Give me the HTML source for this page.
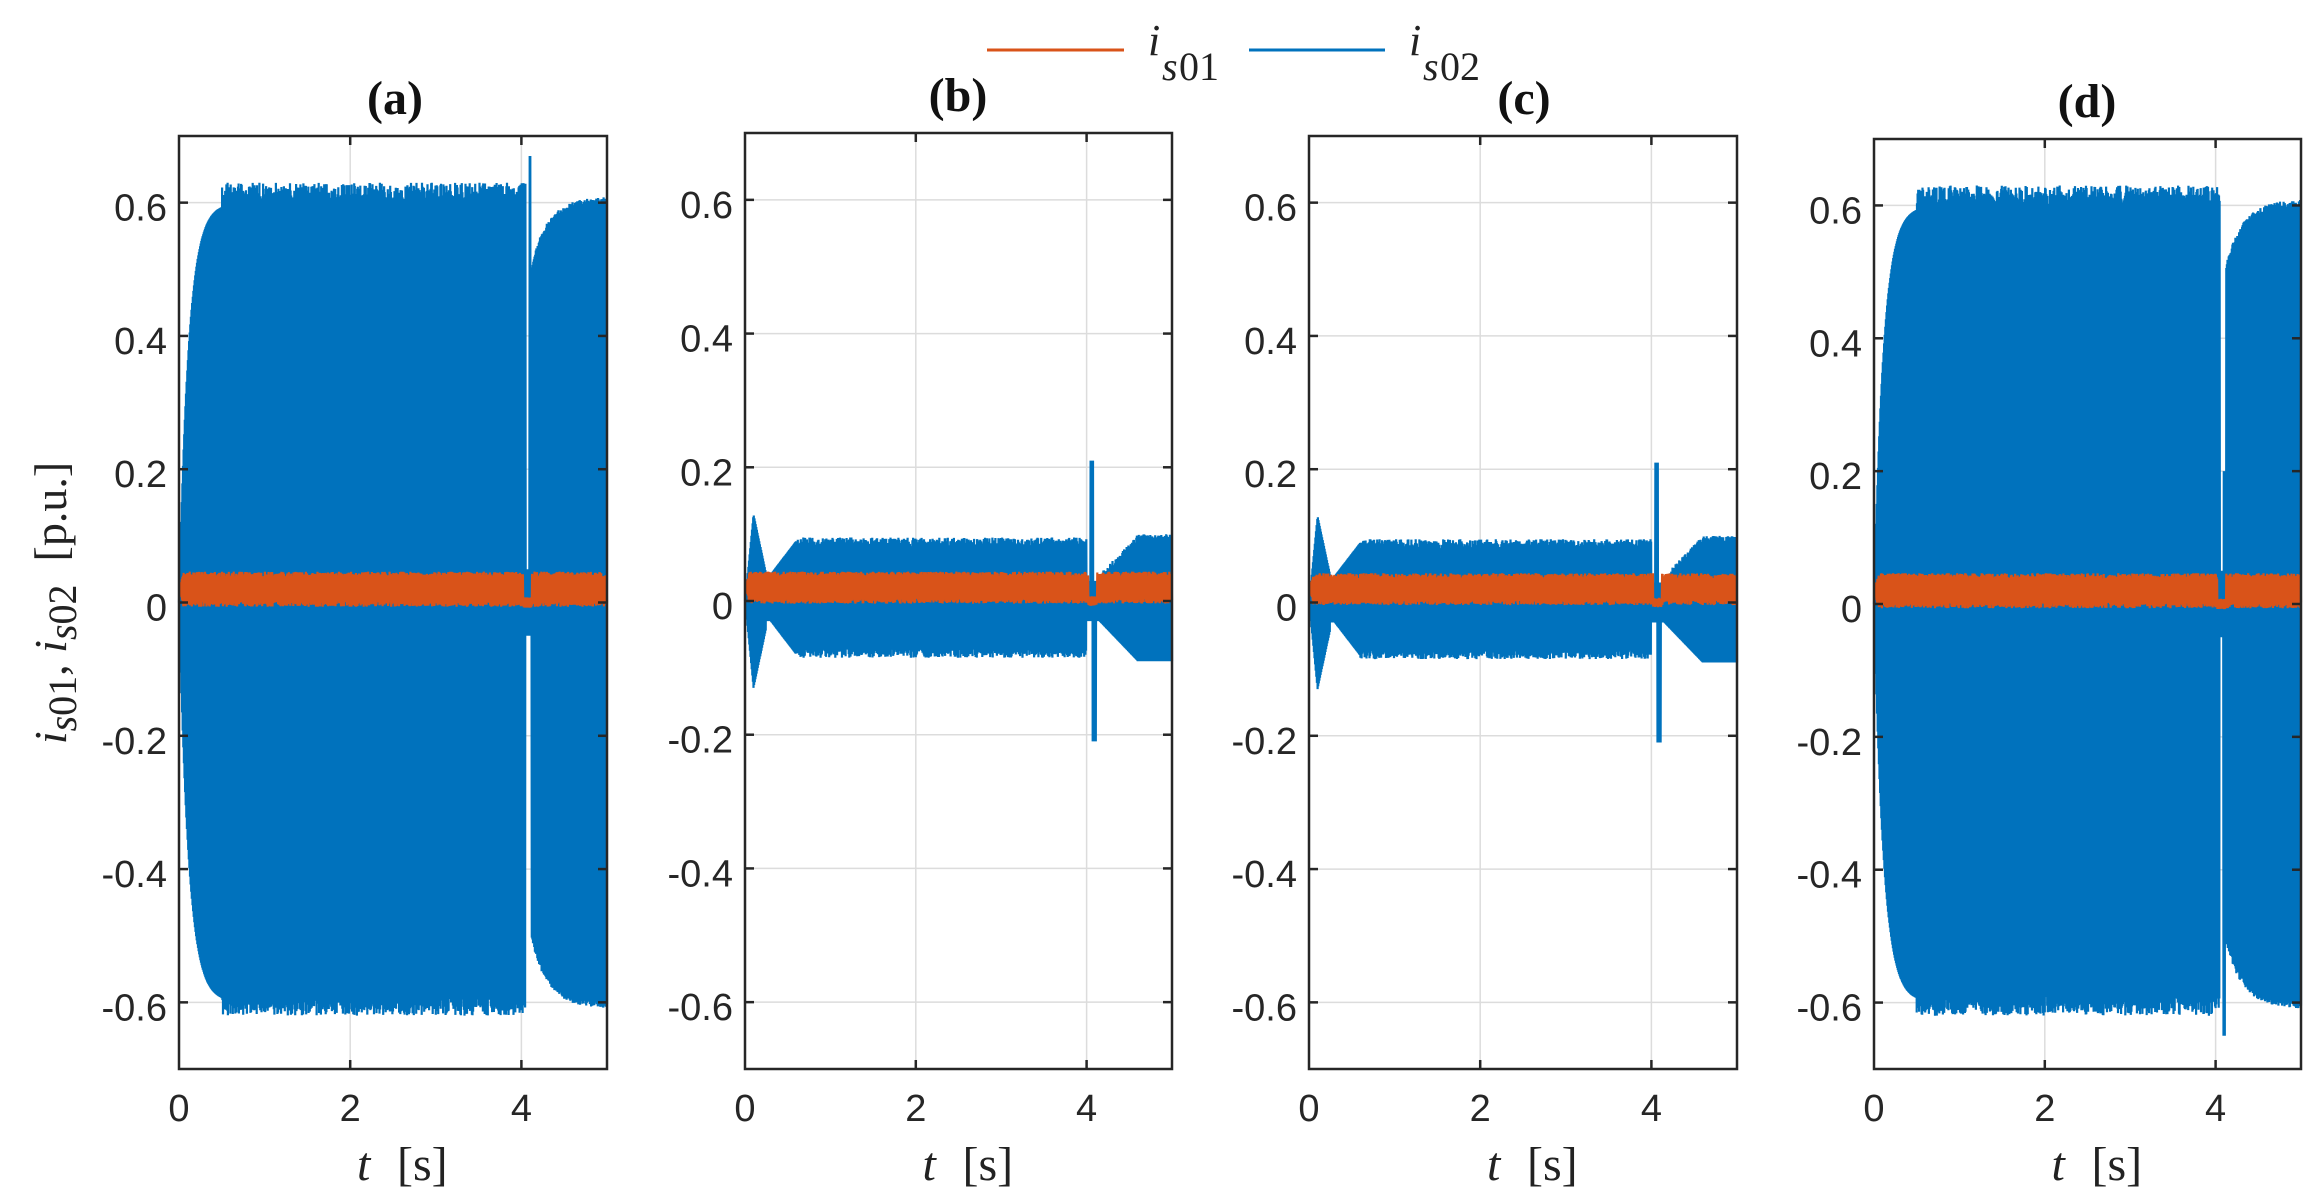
<!DOCTYPE html>
<html><head><meta charset="utf-8"><style>
html,body{margin:0;padding:0;background:#fff;}
svg{display:block}
</style></head><body>
<svg id="s" width="2317" height="1202" xmlns="http://www.w3.org/2000/svg">
<g font-family="Liberation Serif, serif" font-style="italic" font-size="44" fill="#222">
<line x1="987" y1="50" x2="1124" y2="50" stroke="#D95319" stroke-width="3"/>
<text x="1148" y="55">i</text><text x="1162" y="80" font-size="40">s</text><text x="1179" y="80" font-size="40" font-style="normal">01</text>
<line x1="1249" y1="50" x2="1385" y2="50" stroke="#0072BD" stroke-width="3"/>
<text x="1409" y="55">i</text><text x="1423" y="80" font-size="40">s</text><text x="1440" y="80" font-size="40" font-style="normal">02</text>
</g>
<g font-family="Liberation Serif, serif" font-size="46" fill="#222" transform="translate(52,603) rotate(-90)" text-anchor="middle">
<text x="0" y="14" xml:space="preserve"><tspan font-style="italic">i</tspan><tspan font-style="italic" font-size="40" dy="10">s</tspan><tspan font-size="40">01</tspan><tspan dy="-10">, </tspan><tspan font-style="italic">i</tspan><tspan font-style="italic" font-size="40" dy="10">s</tspan><tspan font-size="40">02</tspan><tspan dy="-10">  [p.u.]</tspan></text>
</g>
<g id="plots"></g>
</svg>
<script>
var NS="http://www.w3.org/2000/svg",P=document.getElementById('plots');
function el(t,a,txt){var e=document.createElementNS(NS,t);for(var k in a)e.setAttribute(k,a[k]);if(txt!=null)e.textContent=txt;P.appendChild(e);return e;}
var panels=[{x0:179,x1:607,y0:136,y1:1069,lab:'(a)',tx:395,ty:114,big:1},
{x0:745,x1:1172,y0:133,y1:1069,lab:'(b)',tx:958,ty:111,big:0},
{x0:1309,x1:1737,y0:136,y1:1069,lab:'(c)',tx:1524,ty:114,big:0},
{x0:1874,x1:2301,y0:139,y1:1069,lab:'(d)',tx:2087,ty:117,big:1}];
var seed=1;function rnd(){seed=(seed*16807)%2147483647;return seed/2147483647;}
panels.forEach(function(p,pi){
 var X=function(t){return p.x0+(p.x1-p.x0)*t/5;},Y=function(v){return p.y0+(p.y1-p.y0)*(0.7-v)/1.4;};
 [2,4].forEach(function(t){el('line',{x1:X(t),x2:X(t),y1:p.y0,y2:p.y1,stroke:'#dcdcdc','stroke-width':1.5});});
 [-0.6,-0.4,-0.2,0,0.2,0.4,0.6].forEach(function(v){el('line',{x1:p.x0,x2:p.x1,y1:Y(v),y2:Y(v),stroke:'#dcdcdc','stroke-width':1.5});
  el('text',{x:p.x0-12,y:Y(v)+18,'text-anchor':'end','font-family':'Liberation Sans, sans-serif','font-size':38,fill:'#262626'},v==0?'0':v.toFixed(1));});
 [0,2,4].forEach(function(t){el('text',{x:X(t),y:1121,'text-anchor':'middle','font-family':'Liberation Sans, sans-serif','font-size':38,fill:'#262626'},''+t);});
 var d='',N=1400;
 for(var i=0;i<=N;i++){var t=5*i/N,s=(i%2?1:-1),up,dn;
  if(p.big){
   if(t<0.5){var e=0.6*(1-Math.exp(-t*9));up=e;dn=-e;}
   else if(t<4.05){up=0.6+0.03*rnd();dn=-(0.59+0.03*rnd());}
   else if(t<4.12){up=(t>4.09&&t<4.11)?(pi==0?0.67:0.2):0.05;dn=(pi==3&&t>4.09&&t<4.11)?-0.65:-0.05;}
   else{var e2=0.5+0.1*(1-Math.exp(-(t-4.12)*5));up=e2+0.01*rnd();dn=-e2-0.01*rnd();}
  }else{
   if(t<0.1){up=0.13*t/0.1;dn=-up;}
   else if(t<0.25){up=0.13-0.6*(t-0.1);dn=-up;}
   else if(t<0.3){up=0.03;dn=-0.03;}
   else if(t<0.6){var e=0.03+0.05*(t-0.3)/0.3;up=e+0.01;dn=-e;}
   else if(t<4.0){up=0.08+0.015*rnd();dn=-(0.07+0.015*rnd());}
   else if(t<4.15){up=(t>4.04&&t<4.08)?0.21:0.03;dn=(t>4.07&&t<4.11)?-0.21:-0.03;}
   else{var e=0.03+0.06*Math.min(1,(t-4.15)/0.45);up=e+0.01*rnd();dn=-e;}
  }
  d+=(i?'L':'M')+X(t).toFixed(1)+' '+Y(s>0?up:dn).toFixed(1);}
 el('path',{d:d,fill:'none',stroke:'#0072BD','stroke-width':2.2});
 var d2='',amp=p.big?0.022:0.02;
 for(var i=0;i<=N;i++){var t=5*i/N,s=(i%2?1:-1),a=amp*(0.8+0.4*rnd())*Math.min(1,t/0.05);
  var c=0.02;if(t>4.02&&t<4.12){c=0.0;a*=0.3;}
  d2+=(i?'L':'M')+X(t).toFixed(1)+' '+Y(c+s*a).toFixed(1);}
 el('path',{d:d2,fill:'none',stroke:'#D95319','stroke-width':2.2});
 el('rect',{x:p.x0,y:p.y0,width:p.x1-p.x0,height:p.y1-p.y0,fill:'none',stroke:'#262626','stroke-width':2.5});
 [2,4].forEach(function(t){el('line',{x1:X(t),x2:X(t),y1:p.y0,y2:p.y0+9,stroke:'#262626','stroke-width':2.5});el('line',{x1:X(t),x2:X(t),y1:p.y1,y2:p.y1-9,stroke:'#262626','stroke-width':2.5});});
 [-0.6,-0.4,-0.2,0,0.2,0.4,0.6].forEach(function(v){el('line',{x1:p.x0,x2:p.x0+9,y1:Y(v),y2:Y(v),stroke:'#262626','stroke-width':2.5});el('line',{x1:p.x1,x2:p.x1-9,y1:Y(v),y2:Y(v),stroke:'#262626','stroke-width':2.5});});
 el('text',{x:p.tx,y:p.ty,'text-anchor':'middle','font-family':'Liberation Serif, serif','font-weight':'bold','font-size':48,fill:'#111'},p.lab);
 var cx=(p.x0+p.x1)/2;
 el('text',{x:cx-36,y:1180,'text-anchor':'start','font-family':'Liberation Serif, serif','font-style':'italic','font-size':48,fill:'#222'},'t');
 el('text',{x:cx+4,y:1180,'text-anchor':'start','font-family':'Liberation Serif, serif','font-size':48,fill:'#222'},'[s]');
});
</script>
</body></html>
